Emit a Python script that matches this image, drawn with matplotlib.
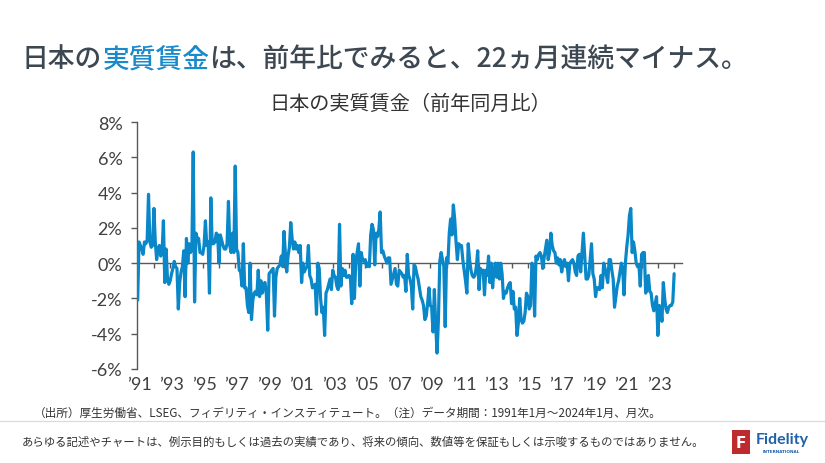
import matplotlib
matplotlib.use('Agg')
import matplotlib.pyplot as plt
import matplotlib.transforms as mtransforms
from matplotlib.patches import Rectangle
from matplotlib.lines import Line2D
import numpy as np

plt.rcParams['font.family'] = ['Noto Sans CJK JP', 'DejaVu Sans']

# ---- data: Japan real wages, YoY %, monthly Jan 1991 - Jan 2024 ----
v1991 = [-2.1, 1.2, 1.0, 0.8, 0.5, 1.2, 1.1, 1.3, 3.9, 1.2, 0.9, 1.0]
v1992 = [3.1, 1.2, 0.2, 0.8, 1.0, 0.4, 0.6, 2.4, -1.1, 0.8, -0.9, -1.2]
v1993 = [-1.0, -0.6, -0.3, 0.1, -0.2, -0.3, -2.6, -1.1, -0.5, -0.2, 0.7, -1.9]
v1994 = [1.4, 0.0, 1.1, 0.6, 0.8, 6.3, -2.2, 1.7, 1.4, 1.4, 0.6, 0.6]
v1995 = [0.5, 1.0, 2.4, 1.0, 1.2, -1.7, 3.7, 1.1, 1.1, 1.2, 1.7, 1.6]
v1996 = [0.0, 1.6, 1.3, 1.0, 0.8, 0.8, 1.1, 3.5, 1.0, 0.6, 1.7, 0.6]
v1997 = [5.5, 0.8, 0.6, -0.4, -0.5, -1.3, 1.1, -1.4, -1.4, -2.4, -2.8, 0.0]
v1998 = [-3.2, -2.1, -1.7, -1.6, -1.8, -0.4, -1.9, -1.0, -1.7, -1.2, -1.1, -1.8]
v1999 = [-3.8, -0.6, -0.5, -0.4, -0.3, -3.0, -0.8, -0.3, -0.2, -0.1, 0.4, -0.2]
v2000 = [1.8, 0.6, -0.5, 0.4, 0.9, 2.3, 1.4, 0.8, 1.2, 0.8, 1.0, 0.6]
v2001 = [1.0, -1.1, 0.0, -0.5, -0.3, -0.2, 1.0, -0.7, -0.9, -1.4, -1.3, -1.2]
v2002 = [-2.9, 0.0, -0.3, -2.0, -2.8, -2.5, -4.1, -1.7, -1.5, -1.2, -0.9, -1.5]
v2003 = [-0.4, -0.7, -0.8, -1.3, -1.5, 2.2, -1.3, -0.3, -0.7, -0.4, -0.8, -0.8]
v2004 = [-0.7, -0.8, -2.3, 0.5, -2.0, 0.1, 0.6, 1.1, -1.3, 0.6, 0.2, 0.1]
v2005 = [0.2, -0.2, 0.0, -0.2, 1.6, 2.2, 1.9, -0.1, 1.7, 1.5, 1.9, 2.9]
v2006 = [0.6, 0.7, 0.4, 0.2, 0.0, 0.3, 0.3, -1.2, -0.9, -0.6, -0.3, -1.2]
v2007 = [-1.3, -0.4, -0.5, -0.6, -0.8, -0.7, -1.6, 0.5, -0.7, -0.9, -1.3, -2.6]
v2008 = [-0.1, -0.2, -0.6, -0.9, -1.4, -1.9, -2.1, -2.4, -3.2, -3.0, -2.3, -1.4]
v2009 = [-2.4, -2.5, -3.9, -1.5, -3.5, -5.1, -3.2, 0.1, 0.6, 0.2, -0.2, -3.6]
v2010 = [0.3, 0.0, 1.7, 2.5, 1.6, 3.3, 2.5, 1.2, 0.2, 1.1, 1.0, 1.0]
v2011 = [0.2, -0.4, -1.0, -1.7, 1.1, 0.2, -0.4, -0.7, -0.8, -0.7, -0.2, 0.7]
v2012 = [-1.5, -0.3, -0.5, -0.4, -1.8, -0.4, -0.7, 0.4, -1.1, 0.0, -1.4, -0.4]
v2013 = [0.0, -0.8, 0.0, -0.9, 0.0, -0.6, -2.0, -1.6, -1.7, -1.4, -1.2, -1.1]
v2014 = [-2.3, -1.6, -2.6, -2.5, -4.1, -3.4, -2.0, -3.2, -3.4, -3.3, -2.8, -1.7]
v2015 = [-1.9, -2.6, -2.4, 0.0, -0.3, -3.0, 0.4, 0.2, 0.5, 0.6, 0.4, -0.3]
v2016 = [0.3, 0.8, 1.3, 0.2, 0.6, 1.7, 1.0, 0.7, 0.6, 0.0, 0.3, -0.1]
v2017 = [0.2, -0.5, 0.0, 0.2, -0.2, 0.0, -1.0, 0.0, 0.1, 0.2, 0.0, -0.5]
v2018 = [-0.7, 0.4, 0.5, -0.5, 0.6, 1.7, 0.4, -0.9, -0.9, -0.7, 0.2, 1.1]
v2019 = [-0.6, -0.9, -1.9, -1.4, -1.4, -1.5, -0.7, -1.4, 0.0, -0.3, -0.7, -1.1]
v2020 = [0.2, 0.2, -0.4, -0.9, -2.5, -1.9, -1.3, -1.0, -0.5, 0.0, -0.3, -1.8]
v2021 = [0.0, 0.9, 1.6, 2.7, 3.1, 0.6, 1.2, 0.7, 0.0, -0.2, -0.1, -1.3]
v2022 = [0.5, 0.6, 0.6, -1.7, -1.4, -0.7, -1.6, -1.7, -2.4, -2.7, -2.3, -1.9]
v2023 = [-4.1, -2.4, -2.5, -3.3, -1.1, -2.0, -2.6, -2.8, -2.5, -2.4, -2.4, -2.2]
v2024 = [-0.6]

values = (v1991 + v1992 + v1993 + v1994 + v1995 + v1996 + v1997 + v1998 + v1999 +
          v2000 + v2001 + v2002 + v2003 + v2004 + v2005 + v2006 + v2007 + v2008 +
          v2009 + v2010 + v2011 + v2012 + v2013 + v2014 + v2015 + v2016 + v2017 +
          v2018 + v2019 + v2020 + v2021 + v2022 + v2023 + v2024)
start_year = 1991
months = np.arange(len(values))

yticks = [-6, -4, -2, 0, 2, 4, 6, 8]
ytick_labels = ['-6%', '-4%', '-2%', '0%', '2%', '4%', '6%', '8%']
label_years = list(range(1991, 2024, 2))
xtick_labels = ['\u2019' + str(y)[2:] for y in label_years]
tick_years = list(range(1991, 2025))

title_parts = ['日本の', '実質賃金', 'は、前年比でみると、22ヵ月連続マイナス。']
subtitle = '日本の実質賃金（前年同月比）'
source_note = '（出所）厚生労働省、LSEG、フィデリティ・インスティテュート。（注）データ期間：1991年1月～2024年1月、月次。'
disclaimer = 'あらゆる記述やチャートは、例示目的もしくは過去の実績であり、将来の傾向、数値等を保証もしくは示唆するものではありません。'

LINE_BLUE = '#0A87C8'
TITLE_GREY = '#3D4752'
TITLE_BLUE = '#1A8ACB'
TEXT_GREY = '#404040'

W, H = 825, 464
fig = plt.figure(figsize=(W / 100, H / 100), dpi=100)
fig.patch.set_facecolor('white')

def fx(px):
    return px / W

def fy(py):
    return 1 - py / H

# ---- axes ----
ax = fig.add_axes([fx(137), fy(370), fx(682) - fx(137), fy(123) - fy(370)])
ax.plot(months, values, color=LINE_BLUE, lw=2.3, solid_joinstyle='round',
        solid_capstyle='round', zorder=3)
ax.set_ylim(-6, 8)
ax.set_xlim(-0.5, 401.8)
ax.spines['top'].set_visible(False)
ax.spines['right'].set_visible(False)
ax.spines['bottom'].set_position(('data', 0))
ax.spines['bottom'].set_color('#595959')
ax.spines['bottom'].set_linewidth(1.0)
ax.spines['left'].set_color('#595959')
ax.spines['left'].set_linewidth(1.0)
ax.spines['bottom'].set_zorder(2)

ax.set_xticks([(y - start_year) * 12 for y in tick_years])
ax.tick_params(axis='x', direction='out', length=3.5, width=1.0, color='#595959',
               labelbottom=False)
ax.set_yticks(yticks)
ax.set_yticklabels(ytick_labels, family=['Lato', 'DejaVu Sans'])
ax.tick_params(axis='y', direction='out', length=4.5, width=1.0, color='#595959',
               pad=6, labelsize=13, labelcolor=TEXT_GREY)

trans = mtransforms.blended_transform_factory(ax.transData, ax.transAxes)
for yr, lab in zip(label_years, xtick_labels):
    ax.text((yr - start_year) * 12 + 1, -0.062, lab, transform=trans, ha='center',
            va='center', fontsize=13, color=TEXT_GREY, family=['Lato', 'DejaVu Sans'])

# ---- title with coloured part ----
renderer = fig.canvas.get_renderer()
x = fx(22)
for part, col in zip(title_parts, [TITLE_GREY, TITLE_BLUE, TITLE_GREY]):
    t = fig.text(x, fy(67), part, color=col, fontsize=19.3, ha='left', va='baseline',
                 fontweight='medium')
    bb = t.get_window_extent(renderer)
    x += bb.width / fig.bbox.width

fig.text(fx(410), fy(104), subtitle, ha='center', va='center', fontsize=14.5,
         color='#333333')

fig.text(fx(34), fy(413), source_note, ha='left', va='center', fontsize=8.4,
         color='#333333')

fig.add_artist(Line2D([0, 1], [fy(422), fy(422)], transform=fig.transFigure,
                      color='#D9D9D9', lw=0.8))

fig.text(fx(22), fy(442), disclaimer, ha='left', va='center', fontsize=8.2,
         color='#333333')

# ---- logo ----
fig.add_artist(Rectangle((fx(732), fy(455)), fx(18), fy(431) - fy(455),
                         transform=fig.transFigure, facecolor='#BE2A2E',
                         edgecolor='none'))
fig.text(fx(741), fy(443.5), 'F', ha='center', va='center', fontsize=11,
         color='white', fontweight='bold', family=['DejaVu Sans'])
fig.text(fx(756), fy(440), 'Fidelity', ha='left', va='center', fontsize=11.5,
         color='#1F62A8', fontweight='bold', family=['Lato', 'DejaVu Sans'])
fig.text(fx(781), fy(452.5), 'INTERNATIONAL', ha='center', va='center', fontsize=3,
         color='#1F62A8', fontweight='bold', family=['DejaVu Sans'])

fig.savefig('out.png', dpi=100, facecolor='white')
